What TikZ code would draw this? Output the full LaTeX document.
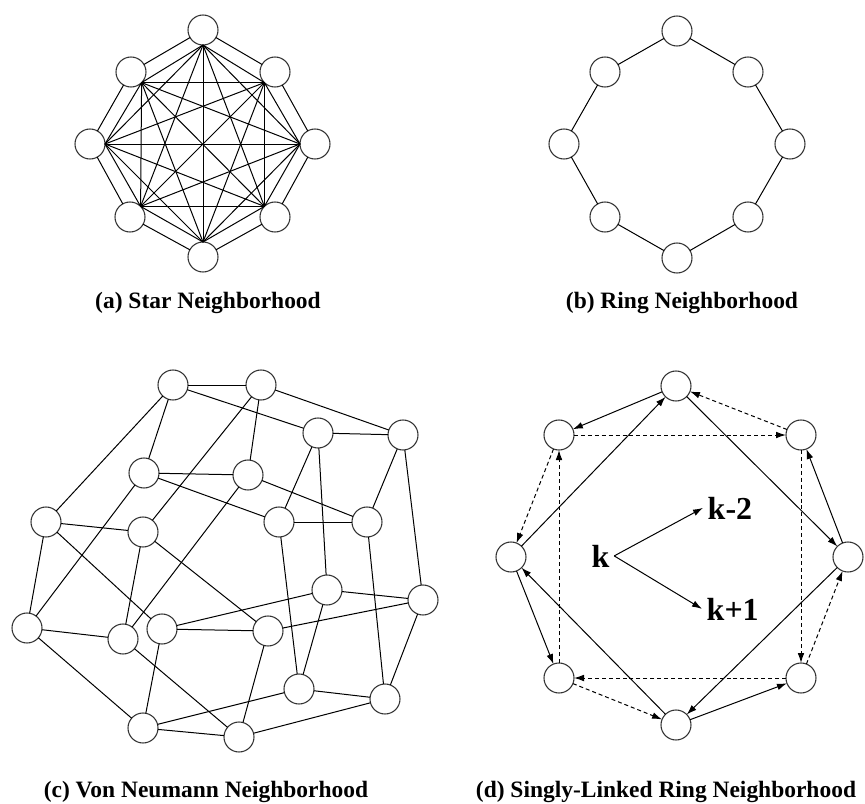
\documentclass[tikz,border=0pt]{standalone}
\usepackage{fontspec}
\setmainfont{Liberation Serif}
\usepackage{tkz-graph}
\usetikzlibrary{arrows.meta}

\begin{document}
\begin{tikzpicture}[x=0.75pt,y=-0.75pt]
		\useasboundingbox (0,0) rectangle (865,804);
		
		\tikzset{VertexStyle/.style = {draw=black!80, shape = circle, fill = white, minimum size = 22.5pt, inner sep = 0pt, line width = 0.8pt}}
		\tikzset{EdgeStyle/.style = {line width = 0.75pt}}
		\tikzset{LabelStyle/.style = {}}
		\tikzset{caption/.style = {font = \bfseries\fontsize{17.6}{20}\selectfont}}
		
		% (a) star
		\Vertex[x=203,y=30,NoLabel]{a1}
		\Vertex[x=275,y=72,NoLabel]{a2}
		\Vertex[x=315,y=144,NoLabel]{a3}
		\Vertex[x=275,y=217,NoLabel]{a4}
		\Vertex[x=203,y=257,NoLabel]{a5}
		\Vertex[x=130,y=217,NoLabel]{a6}
		\Vertex[x=90,y=144,NoLabel]{a7}
		\Vertex[x=131,y=72,NoLabel]{a8}
		\Edges(a1,a2,a3,a4,a5,a6,a7,a8,a1)
		\foreach \i/\ang in {1/-90,2/-135,3/180,4/135,5/90,6/45,7/0,8/-45}
			\coordinate (ain\i) at (a\i.\ang);
		\foreach \i in {1,...,7}{
			\pgfmathtruncatemacro\nxt{\i+1}
			\foreach \j in {\nxt,...,8}
				\draw[EdgeStyle] (ain\i) -- (ain\j);
		}
		\node[caption] (capa) at (208,303) {(a) Star Neighborhood};
		
		% (b) ring
		\Vertex[x=677,y=31,NoLabel]{b1}
		\Vertex[x=748,y=72,NoLabel]{b2}
		\Vertex[x=790,y=144,NoLabel]{b3}
		\Vertex[x=748,y=217,NoLabel]{b4}
		\Vertex[x=677,y=258,NoLabel]{b5}
		\Vertex[x=605,y=217,NoLabel]{b6}
		\Vertex[x=564,y=144,NoLabel]{b7}
		\Vertex[x=605,y=72,NoLabel]{b8}
		\Edges(b1,b2,b3,b4,b5,b6,b7,b8,b1)
		\node[caption] (capb) at (682,303) {(b) Ring Neighborhood};
		
		% (c) von neumann
		\Vertex[x=173,y=385,NoLabel]{c1}
		\Vertex[x=261,y=385,NoLabel]{c2}
		\Vertex[x=318,y=433,NoLabel]{c3}
		\Vertex[x=403,y=435,NoLabel]{c4}
		\Vertex[x=144,y=473,NoLabel]{c5}
		\Vertex[x=248,y=475,NoLabel]{c6}
		\Vertex[x=46,y=522,NoLabel]{c7}
		\Vertex[x=143,y=532,NoLabel]{c8}
		\Vertex[x=279,y=522,NoLabel]{c9}
		\Vertex[x=367,y=522,NoLabel]{c10}
		\Vertex[x=327,y=590,NoLabel]{c11}
		\Vertex[x=423,y=600,NoLabel]{c12}
		\Vertex[x=27,y=628,NoLabel]{c13}
		\Vertex[x=123,y=639,NoLabel]{c14}
		\Vertex[x=162,y=629,NoLabel]{c15}
		\Vertex[x=268,y=631,NoLabel]{c16}
		\Vertex[x=299,y=689,NoLabel]{c17}
		\Vertex[x=385,y=699,NoLabel]{c18}
		\Vertex[x=143,y=728,NoLabel]{c19}
		\Vertex[x=239,y=737,NoLabel]{c20}
		\foreach \p/\q in {1/2,1/3,2/4,3/4,1/7,1/5,2/6,2/8,5/6,5/9,5/13,6/10,6/14,3/9,3/11,4/10,4/12,9/10,9/17,10/18,
			7/8,7/13,7/15,8/14,8/16,13/14,13/19,14/20,15/16,15/11,15/19,16/12,16/20,11/12,11/17,12/18,17/18,17/19,18/20,19/20}{
			\Edge(c\p)(c\q)
		}
		\node[caption] (capc) at (206,792) {(c) Von Neumann Neighborhood};
		
		% (d) singly-linked ring
		\Vertex[x=676,y=386,NoLabel]{d1}
		\Vertex[x=801,y=435,NoLabel]{d2}
		\Vertex[x=848,y=557,NoLabel]{d3}
		\Vertex[x=801,y=678,NoLabel]{d4}
		\Vertex[x=676,y=725,NoLabel]{d5}
		\Vertex[x=559,y=678,NoLabel]{d6}
		\Vertex[x=511,y=557,NoLabel]{d7}
		\Vertex[x=559,y=435,NoLabel]{d8}
		
		\tikzset{>={Latex[length=7.5pt,width=5pt]}} % filled heads
		\tikzset{EdgeStyle/.style = {->, line width = 0.75pt}}
		\Edges(d1,d8)
		\Edges(d7,d1,d3,d2)
		\Edges(d3,d5,d4)
		\Edges(d5,d7,d6)
		
		\tikzset{EdgeStyle/.style = {->, line width = 0.75pt, dash pattern = on 3pt off 2.2pt}}
		\Edges(d2,d1)
		\Edges(d8,d2,d4,d3)
		\Edges(d4,d6,d5)
		\Edges(d6,d8,d7)
		
		\node[font=\bfseries\fontsize{24}{28}\selectfont, anchor=base west] (k) at (587,567) {k};
		\node[font=\bfseries\fontsize{24}{28}\selectfont, anchor=base west] (km2) at (703,519) {k-2};
		\node[font=\bfseries\fontsize{24}{28}\selectfont, anchor=base west] (kp1) at (702,620) {k+1};
		\draw[->, line width = 0.75pt] (k.east) -- (km2.west);
		\draw[->, line width = 0.75pt] (k.east) -- (kp1.west);
		\node[caption] (capd) at (666,792) {(d) Singly-Linked Ring Neighborhood};
		
\end{tikzpicture}
\end{document}
